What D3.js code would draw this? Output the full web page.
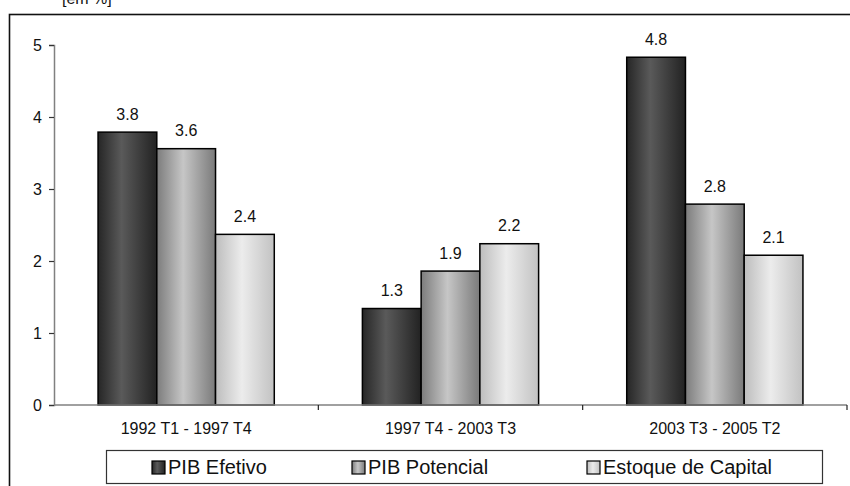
<!DOCTYPE html>
<html>
<head>
<meta charset="utf-8">
<script src="https://cdn.jsdelivr.net/npm/d3@7"></script>
<style>
  html, body { margin: 0; padding: 0; background: #fff; }
  svg { display: block; font-family: "Liberation Sans", Arial, Helvetica, sans-serif; }
</style>
</head>
<body>
<svg id="chart" width="850" height="486"></svg>
<script>
// Periods and growth rates (% per year)
const categories = ["1992 T1 - 1997 T4", "1997 T4 - 2003 T3", "2003 T3 - 2005 T2"];
const seriesNames = ["PIB Efetivo", "PIB Potencial", "Estoque de Capital"];
const pibEfetivo = [3.79, 1.34, 4.83];
const pibPotencial = [3.56, 1.86, 2.79];
const estoqueCapital = [2.37, 2.24, 2.08];
const yTicks = [0, 1, 2, 3, 4, 5];
const unitLabel = "[em %]";

const seriesValues = [pibEfetivo, pibPotencial, estoqueCapital];

const svg = d3.select("#chart");
const plot = { left: 54, right: 847, top: 45, bottom: 405 };

// Bar shading: horizontal cylinder-like gradients
const gradStops = [
  [["0%", "#262626"], ["40%", "#5a5a5a"], ["100%", "#222222"]],
  [["0%", "#7c7c7c"], ["45%", "#c6c6c6"], ["100%", "#7a7a7a"]],
  [["0%", "#bdbdbd"], ["45%", "#ececec"], ["100%", "#c2c2c2"]]
];
const defs = svg.append("defs");
gradStops.forEach((stops, i) => {
  const g = defs.append("linearGradient").attr("id", "g" + i)
    .attr("x1", "0%").attr("x2", "100%").attr("y1", "0%").attr("y2", "0%");
  stops.forEach(s => g.append("stop").attr("offset", s[0]).attr("stop-color", s[1]));
});

// Outer chart frame (extends past the page edges)
svg.append("rect")
  .attr("x", 9.5).attr("y", 14.5).attr("width", 860).attr("height", 500)
  .attr("fill", "none").attr("stroke", "#111").attr("stroke-width", 1.6);

svg.append("text")
  .attr("x", 62).attr("y", 4)
  .attr("font-size", 16).attr("fill", "#111")
  .text(unitLabel);

const x = d3.scaleBand().domain(categories).range([plot.left, plot.right]).padding(0);
const xs = d3.scaleBand().domain(d3.range(seriesNames.length))
  .range([0, x.bandwidth()]).paddingInner(0).paddingOuter(0.75);
const y = d3.scaleLinear().domain([0, 5]).range([plot.bottom, plot.top]);

// Y axis
const yAxis = svg.append("g")
  .attr("transform", `translate(${plot.left},0)`)
  .call(d3.axisLeft(y).tickValues(yTicks).tickFormat(d3.format("d")).tickSize(5).tickPadding(7));
yAxis.select(".domain").attr("stroke", "#808080").attr("stroke-width", 1.5);
yAxis.selectAll(".tick line").attr("stroke", "#333").attr("stroke-width", 1.2);
yAxis.selectAll(".tick text").attr("font-size", 16).attr("fill", "#111")
  .attr("font-family", "Liberation Sans, Arial, sans-serif");

// Bars
const rows = categories.map((c, ci) => ({ c, vals: seriesValues.map((s, si) => ({ si, v: s[ci] })) }));
const groups = svg.append("g").selectAll("g").data(rows).join("g")
  .attr("transform", d => `translate(${x(d.c)},0)`);

groups.selectAll("rect").data(d => d.vals).join("rect")
  .attr("x", d => xs(d.si))
  .attr("y", d => y(d.v))
  .attr("width", xs.bandwidth())
  .attr("height", d => y(0) - y(d.v))
  .attr("fill", d => `url(#g${d.si})`)
  .attr("stroke", "#000").attr("stroke-width", 1.5);

groups.selectAll("text").data(d => d.vals).join("text")
  .attr("x", d => xs(d.si) + xs.bandwidth() / 2)
  .attr("y", d => y(d.v) - 12.5)
  .attr("text-anchor", "middle")
  .attr("font-size", 16).attr("fill", "#111")
  .text(d => d3.format(".1f")(d.v));

// X axis with ticks at category boundaries
const xAxis = svg.append("g");
xAxis.append("line")
  .attr("x1", plot.left).attr("x2", plot.right)
  .attr("y1", plot.bottom).attr("y2", plot.bottom)
  .attr("stroke", "#808080").attr("stroke-width", 1.5);
xAxis.selectAll("line.tk").data(categories).join("line").attr("class", "tk")
  .attr("x1", d => x(d) + x.bandwidth()).attr("x2", d => x(d) + x.bandwidth())
  .attr("y1", plot.bottom).attr("y2", plot.bottom + 5)
  .attr("stroke", "#222").attr("stroke-width", 1.2);
xAxis.selectAll("text").data(categories).join("text")
  .attr("x", d => x(d) + x.bandwidth() / 2)
  .attr("y", 434)
  .attr("text-anchor", "middle")
  .attr("font-size", 16).attr("fill", "#111")
  .text(d => d);

// Legend
const legend = svg.append("g");
legend.append("rect")
  .attr("x", 106.5).attr("y", 450.5).attr("width", 716).attr("height", 33)
  .attr("fill", "#fff").attr("stroke", "#333").attr("stroke-width", 1.2);
const legendX = [152, 352, 587];
const items = legend.selectAll("g").data(seriesNames).join("g")
  .attr("transform", (d, i) => `translate(${legendX[i]},461)`);
items.append("rect")
  .attr("width", 13).attr("height", 13)
  .attr("fill", (d, i) => `url(#g${i})`)
  .attr("stroke", "#000").attr("stroke-width", 1.2);
items.append("text")
  .attr("x", 16).attr("y", 13)
  .attr("font-size", 20).attr("fill", "#111")
  .text(d => d);
</script>
</body>
</html>
